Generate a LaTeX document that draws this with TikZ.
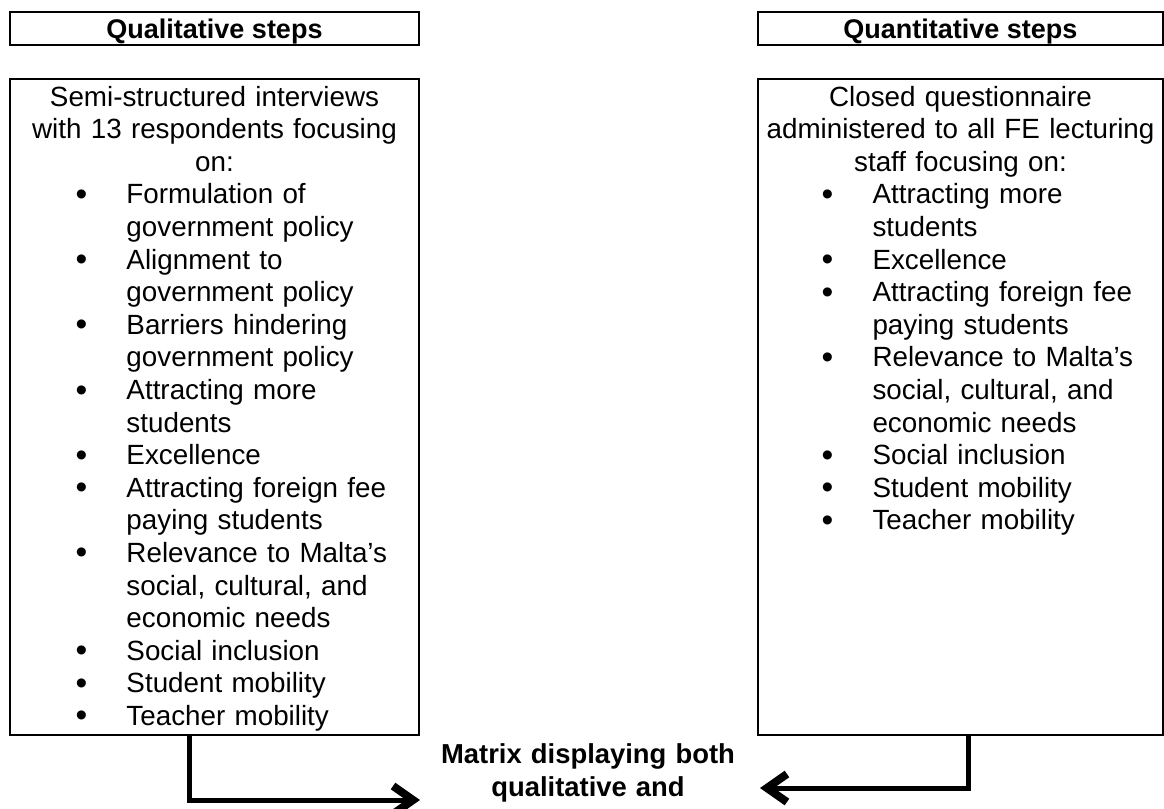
\documentclass[tikz,border=0pt]{standalone}
\usepackage{fontspec}
\setmainfont{Liberation Sans}
\usetikzlibrary{arrows.meta}
\tikzstyle{header} = [draw, line width=1pt, minimum width=204.5pt, minimum height=16.5pt, inner sep=0pt, text height=9.9pt, text depth=0.4pt, font=\fontsize{13.5}{16}\selectfont\bfseries]
\tikzstyle{panel} = [draw, line width=1pt, minimum width=204.5pt, minimum height=328pt, inner sep=0pt]
\tikzstyle{listtext} = [text width=200pt, inner sep=0pt, anchor=base, font=\fontsize{13.9}{16.3}\selectfont]
\tikzstyle{arrow} = [draw, line width=2.5pt, -{Straight Barb[length=10pt,width=14pt,line width=4pt]}]
\newcommand{\intro}[1]{{\centering #1\par}}
\newcommand{\bul}[1]{\par\noindent\hangindent=56pt\hangafter=1\hspace*{30.6pt}\makebox[25.4pt][l]{\raisebox{-0.8pt}{\scalebox{1.2}{\textbullet}}}#1\par}

\begin{document}
\begin{tikzpicture}[x=0.5pt,y=-0.5pt]
\useasboundingbox (0,0) rectangle (1164,809);
% headers
\node[header] (qualhead) at (214.5,28.5) {Qualitative steps};
\node[header, minimum width=202.5pt] (quanthead) at (960.5,28.5) {Quantitative steps};
% panels
\node[panel] (qualpanel) at (214.5,407) {};
\node[panel, minimum width=202.5pt] (quantpanel) at (960.5,407) {};
\node[listtext] (qualtext) at ([yshift=-14pt]qualpanel.north) {%
\intro{Semi-structured interviews\\ with 13 respondents focusing\\ on:}%
\bul{Formulation of\newline government policy}%
\bul{Alignment to\newline government policy}%
\bul{Barriers hindering\newline government policy}%
\bul{Attracting more\newline students}%
\bul{Excellence}%
\bul{Attracting foreign fee\newline paying students}%
\bul{Relevance to Malta’s\newline social, cultural, and\newline economic needs}%
\bul{Social inclusion}%
\bul{Student mobility}%
\bul{Teacher mobility}};
\node[listtext] (quanttext) at ([yshift=-14pt]quantpanel.north) {%
\intro{Closed questionnaire\\ administered to all FE lecturing\\ staff focusing on:}%
\bul{Attracting more\newline students}%
\bul{Excellence}%
\bul{Attracting foreign fee\newline paying students}%
\bul{Relevance to Malta’s\newline social, cultural, and\newline economic needs}%
\bul{Social inclusion}%
\bul{Student mobility}%
\bul{Teacher mobility}};
% result
\node[text width=170pt, align=center, inner sep=0pt, anchor=base, font=\fontsize{13.7}{16.5}\selectfont\bfseries] (matrix) at (588,763) {Matrix displaying both\\ qualitative and};
\coordinate (qualend) at (420,800);
\coordinate (quantend) at (760,788);
\draw[arrow] ([xshift=90pt]qualpanel.south west) |- (qualend);
\draw[arrow] ([xshift=105.5pt]quantpanel.south west) |- (quantend);
\end{tikzpicture}
\end{document}
